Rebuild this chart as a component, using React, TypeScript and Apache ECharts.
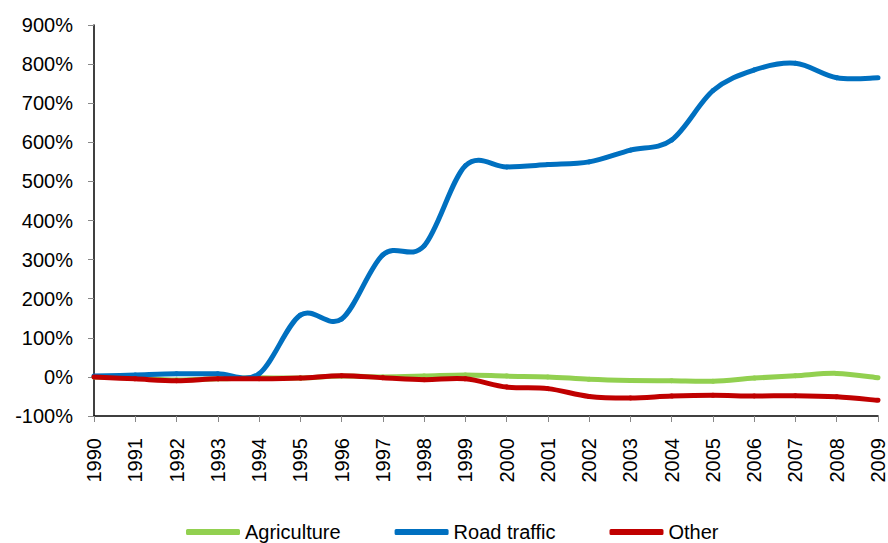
import React, { useEffect, useRef } from "react";
import * as echarts from "echarts";

const years = ["1990","1991","1992","1993","1994","1995","1996","1997","1998","1999","2000","2001","2002","2003","2004","2005","2006","2007","2008","2009"];
const agriculture = [0, -3, -8, -5, -2, -3, 2, 0, 2, 5, 2, 0, -6, -9, -10, -11, -3, 3, 9, -2];
const roadTraffic = [2, 5, 8, 8, 8, 158, 148, 312, 335, 540, 537, 543, 550, 580, 606, 732, 785, 802, 765, 765];
const other = [0, -5, -10, -5, -5, -3, 3, -2, -7, -5, -26, -30, -50, -54, -49, -47, -49, -48, -51, -60];
const yTicks = { min: -100, max: 900, interval: 100 };

export default function App() {
  const ref = useRef<HTMLDivElement>(null);
  useEffect(() => {
    const chart = echarts.init(ref.current!, undefined, { renderer: "svg" });
    const font = "Liberation Sans, Arial, sans-serif";
    // Excel-like smoothed line: Catmull-Rom segments drawn through the axis scales
    const mk = (name: string, data: number[], color: string) => ({
      name,
      type: "custom",
      data: data.map((v, i) => [i, v]),
      encode: { x: 0, y: 1 },
      itemStyle: { color },
      renderItem: (params: any, api: any) => {
        const i = params.dataIndex;
        const n = data.length;
        if (i >= n - 1) return { type: "group", children: [] };
        const c = (k: number) => api.coord([Math.max(0, Math.min(n - 1, k)), data[Math.max(0, Math.min(n - 1, k))]]);
        const p0 = c(i - 1), p1 = c(i), p2 = c(i + 1), p3 = c(i + 2);
        return {
          type: "bezierCurve",
          shape: {
            x1: p1[0], y1: p1[1],
            x2: p2[0], y2: p2[1],
            cpx1: p1[0] + (p2[0] - p0[0]) / 6,
            cpy1: p1[1] + (p2[1] - p0[1]) / 6,
            cpx2: p2[0] - (p3[0] - p1[0]) / 6,
            cpy2: p2[1] - (p3[1] - p1[1]) / 6,
          },
          style: { stroke: color, lineWidth: 5, fill: null, lineCap: "round" },
        };
      },
    });
    chart.setOption({
      animation: false,
      backgroundColor: "#ffffff",
      grid: { left: 94, right: 8, top: 25, bottom: 127, containLabel: false },
      legend: {
        top: 517,
        left: 181,
        icon: "roundRect",
        itemWidth: 54,
        itemHeight: 6,
        itemGap: 54,
        textStyle: { fontFamily: font, fontSize: 20, color: "#000" },
        data: [
          { name: "Agriculture", itemStyle: { color: "#92D050" } },
          { name: "Road traffic", itemStyle: { color: "#0070C0" } },
          { name: "Other", itemStyle: { color: "#C00000" } },
        ],
      },
      xAxis: {
        type: "category",
        data: years,
        boundaryGap: false,
        axisLine: { onZero: false, lineStyle: { color: "#000", width: 1.5 } },
        axisTick: { show: true, length: 6, lineStyle: { color: "#888" }, alignWithLabel: true },
        axisLabel: { rotate: 90, fontFamily: font, fontSize: 20, color: "#000", margin: 22, interval: 0 },
        splitLine: { show: false },
      },
      yAxis: {
        type: "value",
        min: yTicks.min,
        max: yTicks.max,
        interval: yTicks.interval,
        axisLine: { show: true, lineStyle: { color: "#000", width: 1.5 } },
        axisTick: { show: true, length: 6, lineStyle: { color: "#888" } },
        axisLabel: { formatter: "{value}%", fontFamily: font, fontSize: 20, color: "#000", margin: 21 },
        splitLine: { show: false },
      },
      series: [
        mk("Agriculture", agriculture, "#92D050"),
        mk("Road traffic", roadTraffic, "#0070C0"),
        mk("Other", other, "#C00000"),
      ],
    });
    return () => chart.dispose();
  }, []);
  return <div ref={ref} style={{ width: 888, height: 543, position: "absolute", left: 0, top: 0 }} />;
}
